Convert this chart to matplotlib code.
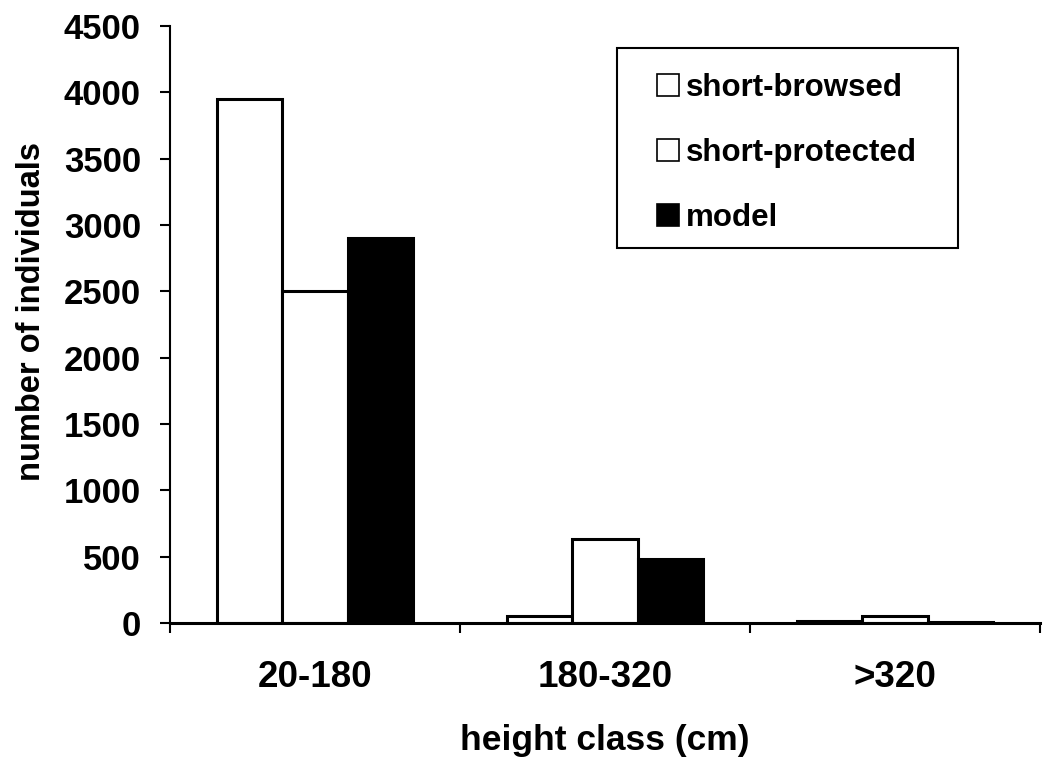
import matplotlib.pyplot as plt
from matplotlib.patches import Rectangle
import numpy as np

plt.rcParams['font.family'] = ['Liberation Sans', 'DejaVu Sans']
plt.rcParams['font.weight'] = 'bold'

categories = ['20-180', '180-320', '>320']
short_browsed = [3950, 50, 15]
short_protected = [2500, 630, 50]
model = [2900, 480, 10]

fig = plt.figure(figsize=(10.43, 7.63), dpi=100)
ax = fig.add_axes([0.163, 0.1835, 0.834, 0.7825])

x = np.arange(len(categories))
w = 0.225
ax.bar(x - w, short_browsed, w, color='white', edgecolor='black', linewidth=2.2,
       label='short-browsed')
ax.bar(x, short_protected, w, color='white', edgecolor='black', linewidth=2.2,
       label='short-protected')
ax.bar(x + w, model, w, color='black', edgecolor='black', linewidth=2.2,
       label='model')

ax.set_xlim(-0.5, len(categories) - 0.5)
ax.set_ylim(0, 4500)
ax.set_yticks(np.arange(0, 4501, 500))
ax.set_xticks(x)
ax.set_xticklabels(categories)
ax.set_xticks(np.arange(-0.5, len(categories)), minor=True)
ax.tick_params(axis='x', which='major', length=0, pad=27, labelsize=26.5)
ax.tick_params(axis='x', which='minor', length=7, width=1.5, direction='out')
ax.tick_params(axis='y', length=7, width=1.5, direction='out', labelsize=25, pad=14)

for side in ('top', 'right'):
    ax.spines[side].set_visible(False)
ax.spines['left'].set_linewidth(1.5)
ax.spines['bottom'].set_linewidth(2.2)

ax.set_xlabel('height class (cm)', fontsize=25.5, fontweight='bold')
ax.xaxis.set_label_coords(0.5, -0.169)
ax.set_ylabel('number of individuals', fontsize=23.5, fontweight='bold')
ax.yaxis.set_label_coords(-0.141, 0.521)

# legend frame with generous side margins
ax.add_patch(Rectangle((0.514, 0.628), 0.392, 0.335, transform=ax.transAxes,
                       facecolor='white', edgecolor='black', linewidth=1.5,
                       zorder=4, clip_on=False))
leg = ax.legend(loc='upper left', bbox_to_anchor=(0.5598, 0.922), fontsize=22.5,
                frameon=False, handlelength=0.7, handleheight=0.7,
                handletextpad=0.22, labelspacing=1.13, borderpad=0, borderaxespad=0)
leg.set_zorder(5)
for h in leg.legend_handles:
    h.set_linewidth(1.2)

fig.savefig('out.png', dpi=100)
